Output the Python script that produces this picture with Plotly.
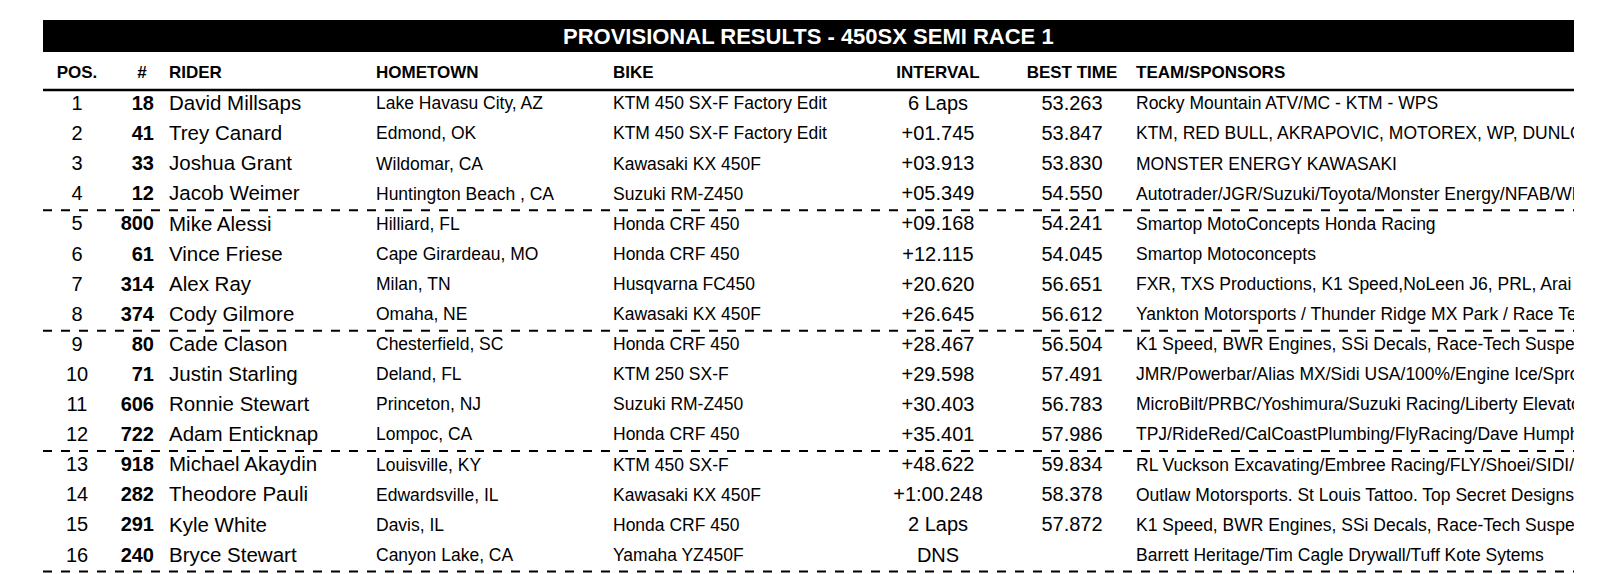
import plotly.graph_objects as go

title = "PROVISIONAL RESULTS - 450SX SEMI RACE 1"
headers = ["POS.", "#", "RIDER", "HOMETOWN", "BIKE", "INTERVAL", "BEST TIME", "TEAM/SPONSORS"]

pos = [str(i) for i in range(1, 17)]
numbers = ["18", "41", "33", "12", "800", "61", "314", "374", "80", "71", "606", "722", "918", "282", "291", "240"]
riders = ["David Millsaps", "Trey Canard", "Joshua Grant", "Jacob Weimer", "Mike Alessi", "Vince Friese",
          "Alex Ray", "Cody Gilmore", "Cade Clason", "Justin Starling", "Ronnie Stewart", "Adam Enticknap",
          "Michael Akaydin", "Theodore Pauli", "Kyle White", "Bryce Stewart"]
hometowns = ["Lake Havasu City, AZ", "Edmond, OK", "Wildomar, CA", "Huntington Beach , CA", "Hilliard, FL",
             "Cape Girardeau, MO", "Milan, TN", "Omaha, NE", "Chesterfield, SC", "Deland, FL", "Princeton, NJ",
             "Lompoc, CA", "Louisville, KY", "Edwardsville, IL", "Davis, IL", "Canyon Lake, CA"]
bikes = ["KTM 450 SX-F Factory Edit", "KTM 450 SX-F Factory Edit", "Kawasaki KX 450F", "Suzuki RM-Z450",
         "Honda CRF 450", "Honda CRF 450", "Husqvarna FC450", "Kawasaki KX 450F", "Honda CRF 450",
         "KTM 250 SX-F", "Suzuki RM-Z450", "Honda CRF 450", "KTM 450 SX-F", "Kawasaki KX 450F",
         "Honda CRF 450", "Yamaha YZ450F"]
intervals = ["6 Laps", "+01.745", "+03.913", "+05.349", "+09.168", "+12.115", "+20.620", "+26.645",
             "+28.467", "+29.598", "+30.403", "+35.401", "+48.622", "+1:00.248", "2 Laps", "DNS"]
best_times = ["53.263", "53.847", "53.830", "54.550", "54.241", "54.045", "56.651", "56.612",
              "56.504", "57.491", "56.783", "57.986", "59.834", "58.378", "57.872", ""]
teams = ["Rocky Mountain ATV/MC - KTM - WPS",
         "KTM, RED BULL, AKRAPOVIC, MOTOREX, WP, DUNLOP",
         "MONSTER ENERGY KAWASAKI",
         "Autotrader/JGR/Suzuki/Toyota/Monster Energy/NFAB/WPS",
         "Smartop MotoConcepts Honda Racing",
         "Smartop Motoconcepts",
         "FXR, TXS Productions, K1 Speed,NoLeen J6, PRL, Arai",
         "Yankton Motorsports / Thunder Ridge MX Park / Race Tech",
         "K1 Speed, BWR Engines, SSi Decals, Race-Tech Suspension",
         "JMR/Powerbar/Alias MX/Sidi USA/100%/Engine Ice/Spro",
         "MicroBilt/PRBC/Yoshimura/Suzuki Racing/Liberty Elevator",
         "TPJ/RideRed/CalCoastPlumbing/FlyRacing/Dave Humphrey",
         "RL Vuckson Excavating/Embree Racing/FLY/Shoei/SIDI/",
         "Outlaw Motorsports. St Louis Tattoo. Top Secret Designs",
         "K1 Speed, BWR Engines, SSi Decals, Race-Tech Suspension",
         "Barrett Heritage/Tim Cagle Drywall/Tuff Kote Sytems"]

W, H = 1614, 574
LEFT, RIGHT = 35, 1566
row_y = [97 + i * 30.1 for i in range(16)]
FONT = "Liberation Sans, Arial, sans-serif"

# (data, x, textposition, size, bold)
columns = [
    (pos, 69, "middle center", 20, False),
    (numbers, 146, "middle left", 20, True),
    (riders, 161, "middle right", 20.5, False),
    (hometowns, 368, "middle right", 17.5, False),
    (bikes, 605, "middle right", 17.5, False),
    (intervals, 930, "middle center", 20, False),
    (best_times, 1064, "middle center", 20, False),
    (teams, 1128, "middle right", 17.5, False),
]
header_x = [69, 134, 161, 368, 605, 930, 1064, 1128]
header_pos = ["middle center", "middle center", "middle right", "middle right", "middle right",
              "middle center", "middle center", "middle right"]

fig = go.Figure()
for data, x, tp, size, bold in columns:
    fig.add_trace(go.Scatter(
        x=[x] * len(data), y=row_y, mode="text",
        text=[f"<b>{t}</b>" if bold else t for t in data],
        textposition=tp, textfont=dict(family=FONT, size=size, color="black"),
        hoverinfo="skip", showlegend=False))

fig.add_trace(go.Scatter(
    x=header_x, y=[66] * len(headers), mode="text",
    text=[f"<b>{h}</b>" for h in headers], textposition=header_pos,
    textfont=dict(family=FONT, size=17, color="black"),
    hoverinfo="skip", showlegend=False))

shapes = [
    dict(type="rect", x0=LEFT, x1=RIGHT, y0=12, y1=44, fillcolor="black", line_width=0, layer="below"),
    dict(type="line", x0=LEFT, x1=RIGHT, y0=82, y1=82, line=dict(color="black", width=2.5)),
]
for k in (3, 7, 11, 15):
    y = row_y[k] + 15
    shapes.append(dict(type="line", x0=LEFT, x1=RIGHT, y0=y, y1=y,
                       line=dict(color="black", width=2, dash="dash")))
# clip the sponsors column at the table edge
shapes.append(dict(type="rect", x0=RIGHT, x1=W + 10, y0=83, y1=H, fillcolor="white",
                   line_width=0, layer="above"))

fig.update_layout(
    width=W, height=H, margin=dict(l=0, r=0, t=0, b=0),
    paper_bgcolor="white", plot_bgcolor="white", shapes=shapes,
    xaxis=dict(range=[0, W], visible=False, fixedrange=True),
    yaxis=dict(range=[H, 0], visible=False, fixedrange=True),
    annotations=[dict(x=(LEFT + RIGHT) / 2, y=28, xref="x", yref="y", text=f"<b>{title}</b>",
                      showarrow=False, font=dict(family=FONT, size=22, color="white"))],
)
fig.write_html("out.html")
